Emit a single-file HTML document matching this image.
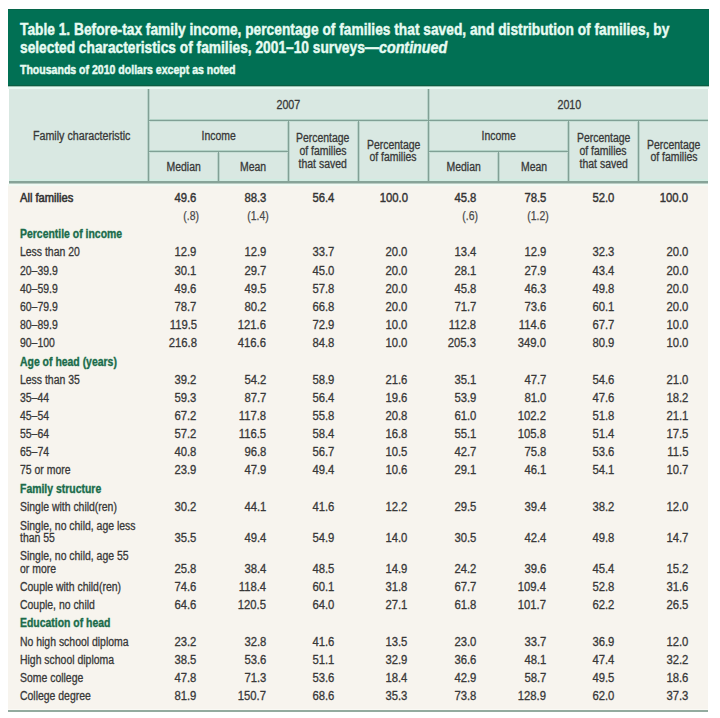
<!DOCTYPE html>
<html><head><meta charset="utf-8"><style>
*{margin:0;padding:0;box-sizing:border-box}
html,body{width:720px;height:718px;background:#fff;overflow:hidden;position:relative;font-family:"Liberation Sans",sans-serif}
#wrap{position:absolute;left:0;top:0;width:720px;height:718px;}
.box{position:absolute}
#g{left:8px;top:9px;width:701px;height:77px;background:#017054;border-bottom:1px solid #0a5e43;border-top:1px solid #06654a}
#gap{left:8px;top:86px;width:701px;height:1px;background:#9cc3b3}
#gap2{left:8px;top:87px;width:701px;height:2px;background:#e6f9f2}
#hdr{left:9px;top:89px;width:699px;height:92px;background:#d9e8e2}
#hl{left:9px;top:179px;width:699px;height:5px;background:linear-gradient(#d2ece2 0 40%,#87a398 40% 80%,#b9ccc3 80%)}
#hlb{left:8px;top:184px;width:700px;height:2px;background:#f1faf3}
#bd{left:8px;top:186px;width:700px;height:523px;background:#f7f4ee}
#bl{left:8px;top:710px;width:700px;height:2px;background:#93ab9f}
#bw{left:8px;top:709px;width:700px;height:1px;background:#fafaf5}
.vl{position:absolute;width:1px;background:#82a095}
.vh{position:absolute;width:3px;background:#b9d3ca}
.hz{position:absolute;height:1px;background:#80a095}
.hh{position:absolute;height:3px;background:linear-gradient(#b3d2c6 0 33.4%,transparent 33.4% 66.6%,#c6ded5 66.6%)}
.t{-webkit-text-stroke:0.45px currentColor;position:absolute;white-space:nowrap;color:#e6fbf2;font-weight:bold;transform-origin:0 0}
.t1{font-size:17.0px;line-height:0;transform:scaleX(0.809)}
.t3{font-size:12.0px;line-height:0;transform:scaleX(0.878)}
.lab,.sect,.val{-webkit-text-stroke:0.3px currentColor;position:absolute;white-space:nowrap;font-size:12.0px;line-height:0;height:0;color:#383838}
.al{transform-origin:0 0;transform:scaleX(0.87)}
.ar{transform-origin:100% 0;transform:scaleX(0.94)}
.sect{font-weight:bold;color:#1d6a4a;text-shadow:0 0 1.5px rgba(200,245,225,0.9)}
.all{-webkit-text-stroke:0.4px currentColor;color:#333}
.lab.all{-webkit-text-stroke:0.55px currentColor;transform:scaleX(0.93)}
.val.se{transform:scaleX(0.87);color:#4a4a4a;-webkit-text-stroke:0.25px currentColor}
.h{-webkit-text-stroke:0.3px currentColor;position:absolute;white-space:nowrap;font-size:12.0px;line-height:0;height:0;color:#383838;text-align:center}
.h span{display:inline-block;transform:scaleX(0.87)}
</style></head><body><div id="wrap">
<div class="box" id="g"></div>
<div class="box" id="gap"></div>
<div class="box" id="gap2"></div>
<div class="box" id="hdr"></div>
<div class="box" id="hl"></div>
<div class="box" id="hlb"></div>
<div class="box" id="bd"></div>
<div class="box" id="bl"></div>
<div class="box" id="bw"></div>
<div class="t t1" style="left:19.6px;top:29.91px">Table 1. Before-tax family income, percentage of families that saved, and distribution of families, by</div>
<div class="t t1" style="left:19.6px;top:47.71px">selected characteristics of families, 2001&#8211;10 surveys<span style="display:inline-block;transform-origin:0 0;transform:scaleX(1.04)">&#8212;<i>continued</i></span></div>
<div class="t t3" style="left:19.6px;top:69.84px">Thousands of 2010 dollars except as noted</div>
<div class="vh" style="left:147px;top:89px;height:92px"></div>
<div class="vh" style="left:427px;top:89px;height:92px"></div>
<div class="vh" style="left:217px;top:151px;height:30px"></div>
<div class="vh" style="left:287px;top:120px;height:61px"></div>
<div class="vh" style="left:357px;top:120px;height:61px"></div>
<div class="vh" style="left:497px;top:151px;height:30px"></div>
<div class="vh" style="left:567px;top:120px;height:61px"></div>
<div class="vh" style="left:637px;top:120px;height:61px"></div>
<div class="hh" style="left:148px;top:119px;width:560px"></div>
<div class="hh" style="left:148px;top:150px;width:140px"></div>
<div class="hh" style="left:428px;top:150px;width:141px"></div>
<div class="vl" style="left:148px;top:89px;height:92px"></div>
<div class="vl" style="left:428px;top:89px;height:92px"></div>
<div class="vl" style="left:218px;top:151px;height:30px"></div>
<div class="vl" style="left:288px;top:120px;height:61px"></div>
<div class="vl" style="left:358px;top:120px;height:61px"></div>
<div class="vl" style="left:498px;top:151px;height:30px"></div>
<div class="vl" style="left:568px;top:120px;height:61px"></div>
<div class="vl" style="left:638px;top:120px;height:61px"></div>
<div class="hz" style="left:148px;top:120px;width:560px"></div>
<div class="hz" style="left:148px;top:151px;width:140px"></div>
<div class="hz" style="left:428px;top:151px;width:141px"></div>
<div class="h" style="left:-18.00px;width:200px;top:136px"><span style="transform:scaleX(0.89)">Family characteristic</span></div>
<div class="h" style="left:188.10px;width:200px;top:105px"><span style="transform:scaleX(0.89)">2007</span></div>
<div class="h" style="left:468.90px;width:200px;top:105px"><span style="transform:scaleX(0.89)">2010</span></div>
<div class="h" style="left:118.50px;width:200px;top:136px"><span>Income</span></div>
<div class="h" style="left:398.80px;width:200px;top:136px"><span>Income</span></div>
<div class="h" style="left:83.20px;width:200px;top:167px"><span>Median</span></div>
<div class="h" style="left:153.20px;width:200px;top:167px"><span>Mean</span></div>
<div class="h" style="left:363.60px;width:200px;top:167px"><span>Median</span></div>
<div class="h" style="left:433.60px;width:200px;top:167px"><span>Mean</span></div>
<div class="h" style="left:223.00px;width:200px;top:138px"><span>Percentage</span></div>
<div class="h" style="left:223.00px;width:200px;top:151px"><span>of families</span></div>
<div class="h" style="left:223.00px;width:200px;top:164px"><span>that saved</span></div>
<div class="h" style="left:293.30px;width:200px;top:145px"><span>Percentage</span></div>
<div class="h" style="left:293.30px;width:200px;top:157px"><span>of families</span></div>
<div class="h" style="left:503.50px;width:200px;top:138px"><span>Percentage</span></div>
<div class="h" style="left:503.50px;width:200px;top:151px"><span>of families</span></div>
<div class="h" style="left:503.50px;width:200px;top:164px"><span>that saved</span></div>
<div class="h" style="left:574.00px;width:200px;top:145px"><span>Percentage</span></div>
<div class="h" style="left:574.00px;width:200px;top:157px"><span>of families</span></div>
<div class="lab all al" style="left:19.60px;top:198.00px">All families</div>
<div class="val all ar" style="right:523.30px;top:198.00px">49.6</div>
<div class="val all ar" style="right:453.80px;top:198.00px">88.3</div>
<div class="val all ar" style="right:385.30px;top:198.00px">56.4</div>
<div class="val all ar" style="right:312.40px;top:198.00px">100.0</div>
<div class="val all ar" style="right:244.00px;top:198.00px">45.8</div>
<div class="val all ar" style="right:173.80px;top:198.00px">78.5</div>
<div class="val all ar" style="right:105.80px;top:198.00px">52.0</div>
<div class="val all ar" style="right:31.60px;top:198.00px">100.0</div>
<div class="val se ar" style="right:520.90px;top:216.00px">(.8)</div>
<div class="val se ar" style="right:451.40px;top:216.00px">(1.4)</div>
<div class="val se ar" style="right:241.60px;top:216.00px">(.6)</div>
<div class="val se ar" style="right:171.40px;top:216.00px">(1.2)</div>
<div class="sect al" style="left:19.60px;top:234.00px">Percentile of income</div>
<div class="lab al" style="left:19.60px;top:252.00px">Less than 20</div>
<div class="val ar" style="right:523.30px;top:252.00px">12.9</div>
<div class="val ar" style="right:453.80px;top:252.00px">12.9</div>
<div class="val ar" style="right:385.30px;top:252.00px">33.7</div>
<div class="val ar" style="right:312.40px;top:252.00px">20.0</div>
<div class="val ar" style="right:244.00px;top:252.00px">13.4</div>
<div class="val ar" style="right:173.80px;top:252.00px">12.9</div>
<div class="val ar" style="right:105.80px;top:252.00px">32.3</div>
<div class="val ar" style="right:31.60px;top:252.00px">20.0</div>
<div class="lab al" style="left:19.60px;top:271.00px">20–39.9</div>
<div class="val ar" style="right:523.30px;top:271.00px">30.1</div>
<div class="val ar" style="right:453.80px;top:271.00px">29.7</div>
<div class="val ar" style="right:385.30px;top:271.00px">45.0</div>
<div class="val ar" style="right:312.40px;top:271.00px">20.0</div>
<div class="val ar" style="right:244.00px;top:271.00px">28.1</div>
<div class="val ar" style="right:173.80px;top:271.00px">27.9</div>
<div class="val ar" style="right:105.80px;top:271.00px">43.4</div>
<div class="val ar" style="right:31.60px;top:271.00px">20.0</div>
<div class="lab al" style="left:19.60px;top:289.00px">40–59.9</div>
<div class="val ar" style="right:523.30px;top:289.00px">49.6</div>
<div class="val ar" style="right:453.80px;top:289.00px">49.5</div>
<div class="val ar" style="right:385.30px;top:289.00px">57.8</div>
<div class="val ar" style="right:312.40px;top:289.00px">20.0</div>
<div class="val ar" style="right:244.00px;top:289.00px">45.8</div>
<div class="val ar" style="right:173.80px;top:289.00px">46.3</div>
<div class="val ar" style="right:105.80px;top:289.00px">49.8</div>
<div class="val ar" style="right:31.60px;top:289.00px">20.0</div>
<div class="lab al" style="left:19.60px;top:307.00px">60–79.9</div>
<div class="val ar" style="right:523.30px;top:307.00px">78.7</div>
<div class="val ar" style="right:453.80px;top:307.00px">80.2</div>
<div class="val ar" style="right:385.30px;top:307.00px">66.8</div>
<div class="val ar" style="right:312.40px;top:307.00px">20.0</div>
<div class="val ar" style="right:244.00px;top:307.00px">71.7</div>
<div class="val ar" style="right:173.80px;top:307.00px">73.6</div>
<div class="val ar" style="right:105.80px;top:307.00px">60.1</div>
<div class="val ar" style="right:31.60px;top:307.00px">20.0</div>
<div class="lab al" style="left:19.60px;top:325.00px">80–89.9</div>
<div class="val ar" style="right:523.30px;top:325.00px">119.5</div>
<div class="val ar" style="right:453.80px;top:325.00px">121.6</div>
<div class="val ar" style="right:385.30px;top:325.00px">72.9</div>
<div class="val ar" style="right:312.40px;top:325.00px">10.0</div>
<div class="val ar" style="right:244.00px;top:325.00px">112.8</div>
<div class="val ar" style="right:173.80px;top:325.00px">114.6</div>
<div class="val ar" style="right:105.80px;top:325.00px">67.7</div>
<div class="val ar" style="right:31.60px;top:325.00px">10.0</div>
<div class="lab al" style="left:19.60px;top:343.00px">90–100</div>
<div class="val ar" style="right:523.30px;top:343.00px">216.8</div>
<div class="val ar" style="right:453.80px;top:343.00px">416.6</div>
<div class="val ar" style="right:385.30px;top:343.00px">84.8</div>
<div class="val ar" style="right:312.40px;top:343.00px">10.0</div>
<div class="val ar" style="right:244.00px;top:343.00px">205.3</div>
<div class="val ar" style="right:173.80px;top:343.00px">349.0</div>
<div class="val ar" style="right:105.80px;top:343.00px">80.9</div>
<div class="val ar" style="right:31.60px;top:343.00px">10.0</div>
<div class="sect al" style="left:19.60px;top:362.00px">Age of head (years)</div>
<div class="lab al" style="left:19.60px;top:380.00px">Less than 35</div>
<div class="val ar" style="right:523.30px;top:380.00px">39.2</div>
<div class="val ar" style="right:453.80px;top:380.00px">54.2</div>
<div class="val ar" style="right:385.30px;top:380.00px">58.9</div>
<div class="val ar" style="right:312.40px;top:380.00px">21.6</div>
<div class="val ar" style="right:244.00px;top:380.00px">35.1</div>
<div class="val ar" style="right:173.80px;top:380.00px">47.7</div>
<div class="val ar" style="right:105.80px;top:380.00px">54.6</div>
<div class="val ar" style="right:31.60px;top:380.00px">21.0</div>
<div class="lab al" style="left:19.60px;top:398.00px">35–44</div>
<div class="val ar" style="right:523.30px;top:398.00px">59.3</div>
<div class="val ar" style="right:453.80px;top:398.00px">87.7</div>
<div class="val ar" style="right:385.30px;top:398.00px">56.4</div>
<div class="val ar" style="right:312.40px;top:398.00px">19.6</div>
<div class="val ar" style="right:244.00px;top:398.00px">53.9</div>
<div class="val ar" style="right:173.80px;top:398.00px">81.0</div>
<div class="val ar" style="right:105.80px;top:398.00px">47.6</div>
<div class="val ar" style="right:31.60px;top:398.00px">18.2</div>
<div class="lab al" style="left:19.60px;top:416.00px">45–54</div>
<div class="val ar" style="right:523.30px;top:416.00px">67.2</div>
<div class="val ar" style="right:453.80px;top:416.00px">117.8</div>
<div class="val ar" style="right:385.30px;top:416.00px">55.8</div>
<div class="val ar" style="right:312.40px;top:416.00px">20.8</div>
<div class="val ar" style="right:244.00px;top:416.00px">61.0</div>
<div class="val ar" style="right:173.80px;top:416.00px">102.2</div>
<div class="val ar" style="right:105.80px;top:416.00px">51.8</div>
<div class="val ar" style="right:31.60px;top:416.00px">21.1</div>
<div class="lab al" style="left:19.60px;top:434.00px">55–64</div>
<div class="val ar" style="right:523.30px;top:434.00px">57.2</div>
<div class="val ar" style="right:453.80px;top:434.00px">116.5</div>
<div class="val ar" style="right:385.30px;top:434.00px">58.4</div>
<div class="val ar" style="right:312.40px;top:434.00px">16.8</div>
<div class="val ar" style="right:244.00px;top:434.00px">55.1</div>
<div class="val ar" style="right:173.80px;top:434.00px">105.8</div>
<div class="val ar" style="right:105.80px;top:434.00px">51.4</div>
<div class="val ar" style="right:31.60px;top:434.00px">17.5</div>
<div class="lab al" style="left:19.60px;top:452.00px">65–74</div>
<div class="val ar" style="right:523.30px;top:452.00px">40.8</div>
<div class="val ar" style="right:453.80px;top:452.00px">96.8</div>
<div class="val ar" style="right:385.30px;top:452.00px">56.7</div>
<div class="val ar" style="right:312.40px;top:452.00px">10.5</div>
<div class="val ar" style="right:244.00px;top:452.00px">42.7</div>
<div class="val ar" style="right:173.80px;top:452.00px">75.8</div>
<div class="val ar" style="right:105.80px;top:452.00px">53.6</div>
<div class="val ar" style="right:31.60px;top:452.00px">11.5</div>
<div class="lab al" style="left:19.60px;top:470.00px">75 or more</div>
<div class="val ar" style="right:523.30px;top:470.00px">23.9</div>
<div class="val ar" style="right:453.80px;top:470.00px">47.9</div>
<div class="val ar" style="right:385.30px;top:470.00px">49.4</div>
<div class="val ar" style="right:312.40px;top:470.00px">10.6</div>
<div class="val ar" style="right:244.00px;top:470.00px">29.1</div>
<div class="val ar" style="right:173.80px;top:470.00px">46.1</div>
<div class="val ar" style="right:105.80px;top:470.00px">54.1</div>
<div class="val ar" style="right:31.60px;top:470.00px">10.7</div>
<div class="sect al" style="left:19.60px;top:489.00px">Family structure</div>
<div class="lab al" style="left:19.60px;top:507.00px">Single with child(ren)</div>
<div class="val ar" style="right:523.30px;top:507.00px">30.2</div>
<div class="val ar" style="right:453.80px;top:507.00px">44.1</div>
<div class="val ar" style="right:385.30px;top:507.00px">41.6</div>
<div class="val ar" style="right:312.40px;top:507.00px">12.2</div>
<div class="val ar" style="right:244.00px;top:507.00px">29.5</div>
<div class="val ar" style="right:173.80px;top:507.00px">39.4</div>
<div class="val ar" style="right:105.80px;top:507.00px">38.2</div>
<div class="val ar" style="right:31.60px;top:507.00px">12.0</div>
<div class="lab al" style="left:19.60px;top:526.00px">Single, no child, age less</div>
<div class="lab al" style="left:19.60px;top:538.00px">than 55</div>
<div class="val ar" style="right:523.30px;top:538.00px">35.5</div>
<div class="val ar" style="right:453.80px;top:538.00px">49.4</div>
<div class="val ar" style="right:385.30px;top:538.00px">54.9</div>
<div class="val ar" style="right:312.40px;top:538.00px">14.0</div>
<div class="val ar" style="right:244.00px;top:538.00px">30.5</div>
<div class="val ar" style="right:173.80px;top:538.00px">42.4</div>
<div class="val ar" style="right:105.80px;top:538.00px">49.8</div>
<div class="val ar" style="right:31.60px;top:538.00px">14.7</div>
<div class="lab al" style="left:19.60px;top:556.00px">Single, no child, age 55</div>
<div class="lab al" style="left:19.60px;top:569.00px">or more</div>
<div class="val ar" style="right:523.30px;top:569.00px">25.8</div>
<div class="val ar" style="right:453.80px;top:569.00px">38.4</div>
<div class="val ar" style="right:385.30px;top:569.00px">48.5</div>
<div class="val ar" style="right:312.40px;top:569.00px">14.9</div>
<div class="val ar" style="right:244.00px;top:569.00px">24.2</div>
<div class="val ar" style="right:173.80px;top:569.00px">39.6</div>
<div class="val ar" style="right:105.80px;top:569.00px">45.4</div>
<div class="val ar" style="right:31.60px;top:569.00px">15.2</div>
<div class="lab al" style="left:19.60px;top:587.00px">Couple with child(ren)</div>
<div class="val ar" style="right:523.30px;top:587.00px">74.6</div>
<div class="val ar" style="right:453.80px;top:587.00px">118.4</div>
<div class="val ar" style="right:385.30px;top:587.00px">60.1</div>
<div class="val ar" style="right:312.40px;top:587.00px">31.8</div>
<div class="val ar" style="right:244.00px;top:587.00px">67.7</div>
<div class="val ar" style="right:173.80px;top:587.00px">109.4</div>
<div class="val ar" style="right:105.80px;top:587.00px">52.8</div>
<div class="val ar" style="right:31.60px;top:587.00px">31.6</div>
<div class="lab al" style="left:19.60px;top:605.00px">Couple, no child</div>
<div class="val ar" style="right:523.30px;top:605.00px">64.6</div>
<div class="val ar" style="right:453.80px;top:605.00px">120.5</div>
<div class="val ar" style="right:385.30px;top:605.00px">64.0</div>
<div class="val ar" style="right:312.40px;top:605.00px">27.1</div>
<div class="val ar" style="right:244.00px;top:605.00px">61.8</div>
<div class="val ar" style="right:173.80px;top:605.00px">101.7</div>
<div class="val ar" style="right:105.80px;top:605.00px">62.2</div>
<div class="val ar" style="right:31.60px;top:605.00px">26.5</div>
<div class="sect al" style="left:19.60px;top:623.00px">Education of head</div>
<div class="lab al" style="left:19.60px;top:642.00px">No high school diploma</div>
<div class="val ar" style="right:523.30px;top:642.00px">23.2</div>
<div class="val ar" style="right:453.80px;top:642.00px">32.8</div>
<div class="val ar" style="right:385.30px;top:642.00px">41.6</div>
<div class="val ar" style="right:312.40px;top:642.00px">13.5</div>
<div class="val ar" style="right:244.00px;top:642.00px">23.0</div>
<div class="val ar" style="right:173.80px;top:642.00px">33.7</div>
<div class="val ar" style="right:105.80px;top:642.00px">36.9</div>
<div class="val ar" style="right:31.60px;top:642.00px">12.0</div>
<div class="lab al" style="left:19.60px;top:660.00px">High school diploma</div>
<div class="val ar" style="right:523.30px;top:660.00px">38.5</div>
<div class="val ar" style="right:453.80px;top:660.00px">53.6</div>
<div class="val ar" style="right:385.30px;top:660.00px">51.1</div>
<div class="val ar" style="right:312.40px;top:660.00px">32.9</div>
<div class="val ar" style="right:244.00px;top:660.00px">36.6</div>
<div class="val ar" style="right:173.80px;top:660.00px">48.1</div>
<div class="val ar" style="right:105.80px;top:660.00px">47.4</div>
<div class="val ar" style="right:31.60px;top:660.00px">32.2</div>
<div class="lab al" style="left:19.60px;top:678.00px">Some college</div>
<div class="val ar" style="right:523.30px;top:678.00px">47.8</div>
<div class="val ar" style="right:453.80px;top:678.00px">71.3</div>
<div class="val ar" style="right:385.30px;top:678.00px">53.6</div>
<div class="val ar" style="right:312.40px;top:678.00px">18.4</div>
<div class="val ar" style="right:244.00px;top:678.00px">42.9</div>
<div class="val ar" style="right:173.80px;top:678.00px">58.7</div>
<div class="val ar" style="right:105.80px;top:678.00px">49.5</div>
<div class="val ar" style="right:31.60px;top:678.00px">18.6</div>
<div class="lab al" style="left:19.60px;top:696.00px">College degree</div>
<div class="val ar" style="right:523.30px;top:696.00px">81.9</div>
<div class="val ar" style="right:453.80px;top:696.00px">150.7</div>
<div class="val ar" style="right:385.30px;top:696.00px">68.6</div>
<div class="val ar" style="right:312.40px;top:696.00px">35.3</div>
<div class="val ar" style="right:244.00px;top:696.00px">73.8</div>
<div class="val ar" style="right:173.80px;top:696.00px">128.9</div>
<div class="val ar" style="right:105.80px;top:696.00px">62.0</div>
<div class="val ar" style="right:31.60px;top:696.00px">37.3</div>
</div></body></html>
